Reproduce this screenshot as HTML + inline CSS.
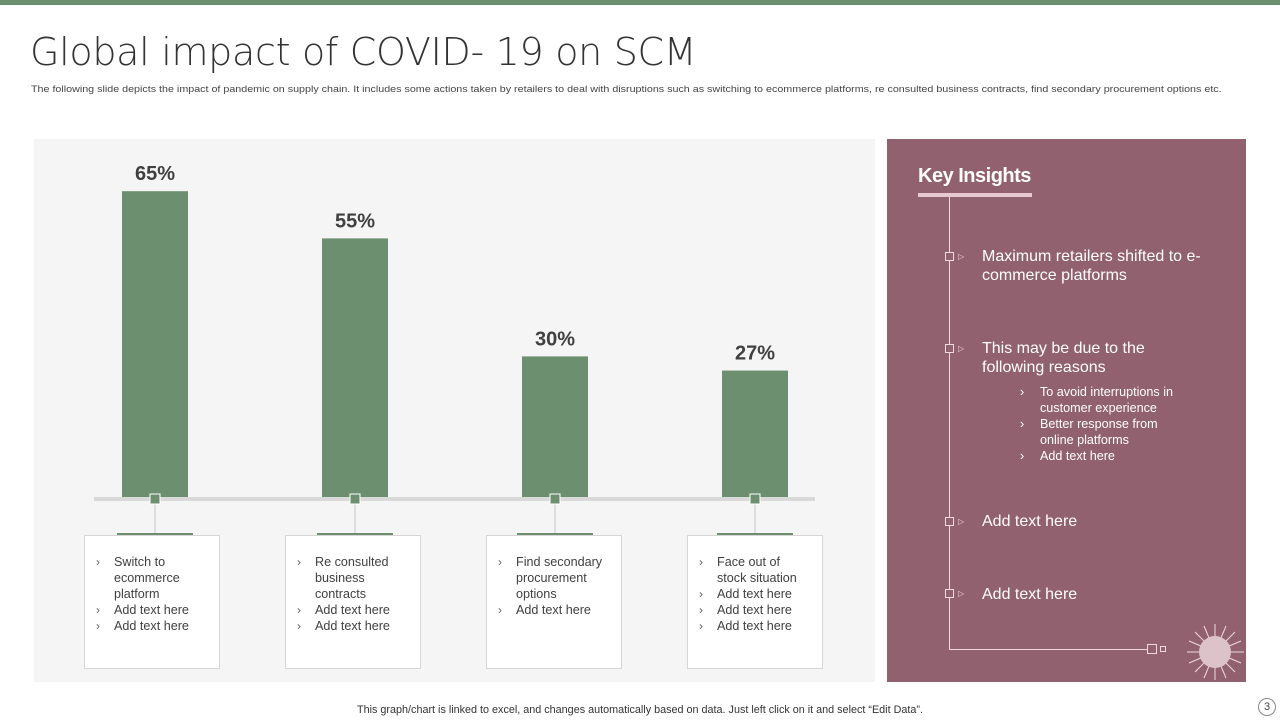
<!DOCTYPE html>
<html><head><meta charset="utf-8">
<style>
*{margin:0;padding:0;box-sizing:border-box}
body{width:1280px;height:720px;position:relative;background:#fff;font-family:"Liberation Sans",sans-serif;overflow:hidden;color:#404040}
.abs{position:absolute}
.box{position:absolute;top:535px;width:136px;height:134px;background:#fff;border:1px solid #d6d6d6;font-size:12.6px;line-height:16px;color:#404040;padding:18px 14px 0 29px}
.box li{list-style:none;position:relative}
.box li:before{content:"›";position:absolute;left:-18px;color:#666;font-size:12px}
.ins{position:absolute;left:982px;color:#fff;font-size:16px;line-height:19px}
.sub{position:absolute;left:1040px;color:#fff;font-size:12.6px;line-height:16px}
.sub li{list-style:none;position:relative}
.sub li:before{content:"›";position:absolute;left:-20px}
.mk{position:absolute;left:945px;width:9px;height:9px;border:1px solid #f0d9df;background:#92616f}
.tri{position:absolute;left:958px;color:#f0d9df;font-size:8px}
</style></head><body>
<div class="abs" style="left:0;top:0;width:1280px;height:5px;background:#6b8f6f"></div>
<div class="abs" style="left:30px;top:30px;font-size:38px;color:#333;font-family:'DejaVu Sans','Liberation Sans',sans-serif;font-weight:300;letter-spacing:-0.3px;line-height:44px;transform:scaleX(1.0);transform-origin:left">Global impact of COVID- 19 on SCM</div>
<div class="abs" style="left:31px;top:83px;font-size:9.4px;color:#444;white-space:nowrap;transform:scaleX(1.143);transform-origin:left">The following slide depicts the impact of pandemic on supply chain. It includes some actions taken by retailers to deal with disruptions such as switching to ecommerce platforms, re consulted business contracts, find secondary procurement options etc.</div>

<div class="abs" style="left:34px;top:139px;width:841px;height:543px;background:#f5f5f5"></div>
<svg class="abs" id="chart" style="left:0;top:0" width="1280" height="720"></svg>

<div class="box" style="left:84px"><ul><li>Switch to ecommerce platform</li><li>Add text here</li><li>Add text here</li></ul></div>
<div class="box" style="left:285px"><ul><li>Re consulted business contracts</li><li>Add text here</li><li>Add text here</li></ul></div>
<div class="box" style="left:486px"><ul><li>Find secondary procurement options</li><li>Add text here</li></ul></div>
<div class="box" style="left:687px"><ul><li>Face out of stock situation</li><li>Add text here</li><li>Add text here</li><li>Add text here</li></ul></div>

<div class="abs" style="left:887px;top:139px;width:359px;height:543px;background:#92616f"></div>
<div class="abs" style="left:918px;top:165px;font-size:20px;font-weight:bold;color:#fff;letter-spacing:-0.5px">Key Insights</div>
<div class="abs" style="left:918px;top:193px;width:114px;height:4px;background:#e8c8d0"></div>
<div class="abs" style="left:949px;top:197px;width:1px;height:453px;background:#f0d9df"></div>
<div class="abs" style="left:949px;top:649px;width:198px;height:1px;background:#f0d9df"></div>
<div class="abs" style="left:1147px;top:644px;width:10px;height:10px;border:1px solid #f0d9df"></div>
<div class="abs" style="left:1160px;top:646px;width:6px;height:6px;border:1px solid #f0d9df"></div>
<svg class="abs" style="left:1184px;top:622px" width="62" height="60" viewBox="0 0 62 60">
<g stroke="#f0d9df" stroke-width="1">
<line x1="31" y1="30" x2="31" y2="2"/><line x1="31" y1="30" x2="31" y2="58"/><line x1="31" y1="30" x2="3" y2="30"/><line x1="31" y1="30" x2="60" y2="30"/>
<line x1="31" y1="30" x2="11" y2="10"/><line x1="31" y1="30" x2="51" y2="10"/><line x1="31" y1="30" x2="11" y2="50"/><line x1="31" y1="30" x2="51" y2="50"/>
<line x1="31" y1="30" x2="20" y2="4"/><line x1="31" y1="30" x2="42" y2="4"/><line x1="31" y1="30" x2="20" y2="56"/><line x1="31" y1="30" x2="42" y2="56"/>
<line x1="31" y1="30" x2="5" y2="19"/><line x1="31" y1="30" x2="57" y2="19"/><line x1="31" y1="30" x2="5" y2="41"/><line x1="31" y1="30" x2="57" y2="41"/></g>
<circle cx="31" cy="30" r="16" fill="#dcc3ca"/></svg>

<div class="mk" style="top:252px"></div><div class="tri" style="top:252px">▷</div>
<div class="ins" style="top:247px;width:240px">Maximum retailers shifted to e-commerce platforms</div>
<div class="mk" style="top:344px"></div><div class="tri" style="top:344px">▷</div>
<div class="ins" style="top:339px;width:200px">This may be due to the following reasons</div>
<ul class="sub" style="top:384px;width:148px"><li>To avoid interruptions in customer experience</li><li>Better response from online platforms</li><li>Add text here</li></ul>
<div class="mk" style="top:517px"></div><div class="tri" style="top:517px">▷</div>
<div class="ins" style="top:512px">Add text here</div>
<div class="mk" style="top:589px"></div><div class="tri" style="top:589px">▷</div>
<div class="ins" style="top:585px">Add text here</div>

<div class="abs" style="left:0;width:1280px;text-align:center;top:704px;font-size:10.8px;color:#333">This graph/chart is linked to excel, and changes automatically based on data. Just left click on it and select “Edit Data”.</div>
<div class="abs" style="left:1258px;top:698px;width:18px;height:18px;border:1px solid #888;border-radius:50%;font-size:11px;text-align:center;line-height:16px;color:#444">3</div>

<script>
const categories = ["Switch to ecommerce platform","Re consulted business contracts","Find secondary procurement options","Face out of stock situation"];
const values = [65,55,30,27];
const valueLabels = ["65%","55%","30%","27%"];
const NS="http://www.w3.org/2000/svg";
const svg=document.getElementById('chart');
const baseY=498, scale=4.72, x0=155, step=200, barW=66;
function xPos(i){return x0+i*step;}
function yPos(v){return baseY-v*scale;}
function mk(tag,attrs){const e=document.createElementNS(NS,tag);for(const k in attrs)e.setAttribute(k,attrs[k]);svg.appendChild(e);return e;}
values.forEach((v,i)=>{
  const cx=xPos(i);
  const r=mk('rect',{x:cx-barW/2,y:yPos(v),width:barW,height:baseY-yPos(v),fill:'#6b8f6f'});
  
  
  const t=mk('text',{x:cx,y:yPos(v)-11,'text-anchor':'middle','font-size':20,'font-weight':'bold',fill:'#404040','font-family':'Liberation Sans, sans-serif'});
  t.textContent=valueLabels[i];
  
  
});
const ax=mk('rect',{x:94,y:497,width:721,height:4,fill:'#d9d9d9'});


values.forEach((v,i)=>{
  const cx=xPos(i);
  const c=mk('line',{x1:cx,y1:503,x2:cx,y2:534,stroke:'#c8c8c8','stroke-width':1});
  
  
  const m=mk('rect',{x:cx-5,y:494,width:10,height:10,fill:'#6b8f6f',stroke:'#fff','stroke-width':1});
  
  
  const g=mk('rect',{x:cx-38,y:533,width:76,height:3,fill:'#6b8f6f'});
  
  
});
</script>
</body></html>
